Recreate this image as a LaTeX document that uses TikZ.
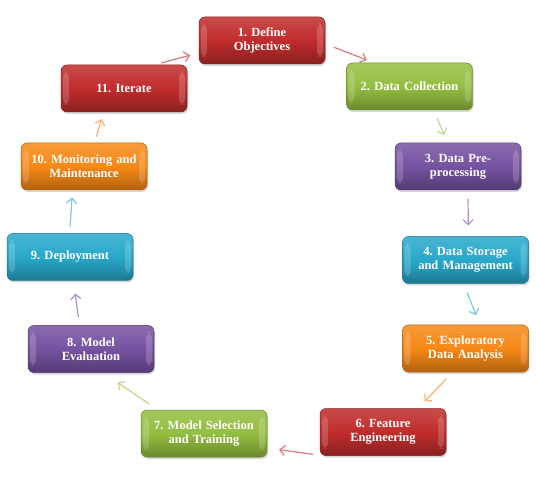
\documentclass[tikz,border=0pt]{standalone}
\usepackage{fontspec}
\setmainfont{Liberation Serif}
\usepackage{xcolor}
\usepackage{tikz}
\usetikzlibrary{arrows.meta,shapes,shadows}

\definecolor{cred}{RGB}{192,44,44}
\definecolor{cgreen}{RGB}{148,190,64}
\definecolor{cpurple}{RGB}{118,82,162}
\definecolor{caqua}{RGB}{40,168,202}
\definecolor{corange}{RGB}{246,136,22}

\tikzset{
	stage/.style={rectangle, rounded corners=6pt, outer sep=0pt, minimum height=47pt,
		text width=114pt, inner xsep=6pt, inner ysep=2pt, align=center,
		font=\fontsize{12.5}{14}\selectfont\bfseries\frenchspacing, text=white,
		draw=#1!70!black, line width=0.5pt,
		top color=#1!85!white, bottom color=#1!72!black, middle color=#1,
		drop shadow={shadow xshift=1pt, shadow yshift=-2pt, opacity=0.3},
		path picture={
			\fill[white,opacity=0.18] ([xshift=2pt,yshift=-7pt]path picture bounding box.north west) rectangle ([xshift=8pt,yshift=7pt]path picture bounding box.south west);
			\fill[white,opacity=0.18] ([xshift=-2pt,yshift=-7pt]path picture bounding box.north east) rectangle ([xshift=-8pt,yshift=7pt]path picture bounding box.south east);
		}},
	flow/.style={draw=#1!62!white, line width=1.2pt, -{Straight Barb[length=5pt,width=10pt]}}
}

\begin{document}
\begin{tikzpicture}[x=1pt, y=-1pt]
	\useasboundingbox[fill=white] (0,0) rectangle (536,481);
	\node[stage=cred] (define) at (262,40.5) {1. Define\\Objectives};%
	\node[stage=cgreen] (collect) at (409.5,86.5) {2. Data Collection};%
	\node[stage=cpurple] (prep) at (458,166.5) {3. Data Pre-\\processing};%
	\node[stage=caqua] (store) at (465.5,260) {4. Data Storage\\and Management};%
	\node[stage=corange] (explore) at (465.5,348.5) {5. Exploratory\\Data Analysis};%
	\node[stage=cred] (feature) at (383,432) {6. Feature\\Engineering};%
	\node[stage=cgreen] (select) at (204,433.5) {7. Model Selection\\and Training};%
	\node[stage=cpurple] (evaluate) at (91,349) {8. Model\\Evaluation};%
	\node[stage=caqua] (deploy) at (70,257) {9. Deployment};%
	\node[stage=corange] (monitor) at (84,166.5) {10. Monitoring and\\Maintenance};%
	\node[stage=cred] (iterate) at (124,88.5) {11. Iterate};%

	\draw[flow=cred, shorten <=7.5pt, shorten >=9.3pt] (iterate.38) -- (define.-169);%
	\draw[flow=cred, shorten <=9.6pt, shorten >=8.5pt] (define.-3.7) -- (collect.146.5);%
	\draw[flow=cgreen, shorten <=8.7pt, shorten >=8.7pt] (collect.-44.2) -- (prep.114.5);%
	\draw[flow=cpurple, shorten <=9pt, shorten >=11pt] (prep.-67) -- (store.83.8);%
	\draw[flow=caqua, shorten <=9.7pt, shorten >=10.7pt] (store.-95) -- (explore.58.5);%
	\draw[flow=corange, shorten <=9.7pt, shorten >=9.7pt] (explore.-118.6) -- (feature.34.2);%
	\draw[flow=cred, shorten <=9pt, shorten >=12.2pt] (feature.-159.1) -- (select.-13);%
	\draw[flow=cgreen, shorten <=10.7pt, shorten >=17.8pt] (select.153) -- (evaluate.-63);%
	\draw[flow=cpurple, shorten <=8.1pt, shorten >=13.1pt] (evaluate.116.6) -- (deploy.-82.2);%
	\draw[flow=caqua, shorten <=7pt, shorten >=7.5pt] (deploy.91.2) -- (monitor.-116.6);%
	\draw[flow=corange, shorten <=6.2pt, shorten >=7.3pt] (monitor.66.3) -- (iterate.-131.8);%
\end{tikzpicture}
\end{document}
